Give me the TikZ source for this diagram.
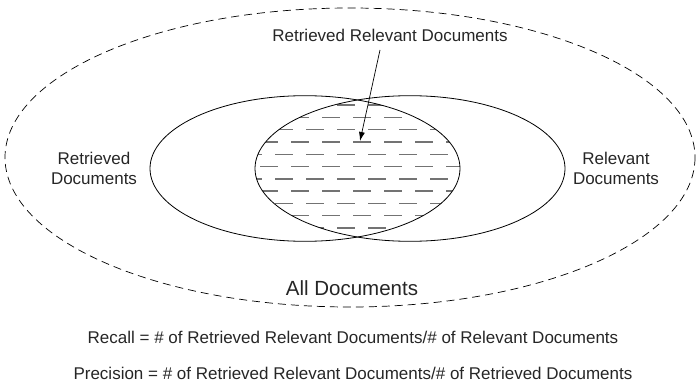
\documentclass[tikz,border=0pt]{standalone}
\usepackage{fontspec}
\setmainfont{Liberation Sans}
\usetikzlibrary{arrows.meta}
\begin{document}
\begin{tikzpicture}[x=1pt,y=-1pt,
  lbl/.style={font=\fontsize{17}{20}\selectfont, align=center, inner sep=0pt, text=black!85},
  big/.style={font=\fontsize{20.5}{24}\selectfont, inner sep=0pt, text=black!85},
  setline/.style={draw=black, line width=0.8pt},
  hatch/.style={draw=black!55, line width=1.4pt, dash pattern=on 18pt off 13pt}]
\useasboundingbox (0,0) rectangle (698,385);
\draw[line width=0.7pt, dash pattern=on 8pt off 5pt] (350,157.5) ellipse [x radius=345, y radius=149.5];
% hatching in intersection
\begin{scope}
\clip (305,168.5) ellipse [x radius=155, y radius=72.8];
\clip (410,168.5) ellipse [x radius=155, y radius=72.8];
\foreach \i in {0,...,10}{
  \pgfmathsetmacro{\yy}{105+12.3*\i}
  \pgfmathsetmacro{\ph}{mod(\i,2)*15}
  \draw[hatch, dash phase=\ph pt] (244,\yy) -- (480,\yy);
}
\end{scope}
\draw[setline] (305,168.5) ellipse [x radius=155, y radius=72.8];
\draw[setline] (410,168.5) ellipse [x radius=155, y radius=72.8];
\node[lbl] (rrd) at (390,35) {Retrieved Relevant Documents};
\coordinate (tip) at (360,141);
\draw[line width=0.7pt, -{Latex[length=9pt,width=6pt]}] (380,50) -- (tip);
\node[lbl] (ret) at (94,168) {Retrieved\\Documents};
\node[lbl] (rel) at (616,168) {Relevant\\Documents};
\node[big] (all) at (352,288) {All Documents};
\node[lbl] (recall) at (353,337) {Recall = \# of Retrieved Relevant Documents/\# of Relevant Documents};
\node[lbl] (prec) at (353,373) {Precision = \# of Retrieved Relevant Documents/\# of Retrieved Documents};
\end{tikzpicture}
\end{document}
